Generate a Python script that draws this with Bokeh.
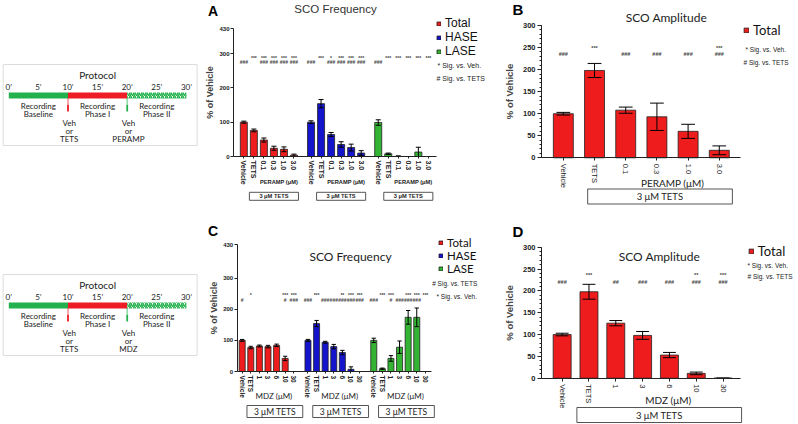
from bokeh.plotting import figure
from bokeh.models import Range1d, FixedTicker, Label, Legend, LegendItem
from bokeh.layouts import row, column
from bokeh.embed import file_html
from bokeh.resources import INLINE
from bokeh.core.properties import value

# ---------------- data ----------------
proto_ticks = [0, 5, 10, 15, 20, 25, 30]
proto_phase_start = [0, 10, 20]
proto_phase_end = [10, 20, 30]
proto_phase_line1 = ["Recording", "Recording", "Recording"]
proto_phase_line2 = ["Baseline", "Phase I", "Phase II"]
proto_inject_times = [10, 20]
proto_top_agents = ["TETS", "PERAMP"]
proto_bottom_agents = ["TETS", "MDZ"]

freq_groups = ["Total", "HASE", "LASE"]

# Panel A: SCO frequency, PERAMP
a_labels = ["Vehicle", "TETS", "0.1", "0.3", "1.0", "3.0"]
a_total = [100, 76, 48, 24, 21, 4]
a_total_err = [3, 4, 6, 6, 7, 3]
a_hase = [100, 154, 64, 35, 26, 10]
a_hase_err = [4, 12, 6, 8, 10, 7]
a_lase = [99, 8, 0, 0, 13, 0]
a_lase_err = [8, 2, 2, 0, 14, 0]
a_sig_veh = [["", "***", "***", "***", "***", "***"],
             ["", "***", "*", "***", "***", "***"],
             ["", "***", "***", "***", "***", "***"]]
a_sig_tets = [["###", "", "###", "###", "###", "###"],
              ["###", "", "###", "###", "###", "###"],
              ["###", "", "", "", "", ""]]

# Panel B: SCO amplitude, PERAMP
b_labels = ["Vehicle", "TETS", "0.1", "0.3", "1.0", "3.0"]
b_total = [100, 198, 108, 93, 60, 17]
b_total_err = [3, 16, 7, 31, 16, 10]
b_sig_veh = ["", "***", "", "", "", "***"]
b_sig_tets = ["###", "", "###", "###", "###", "###"]

# Panel C: SCO frequency, MDZ
c_labels = ["Vehicle", "TETS", "1", "3", "6", "10", "30"]
c_total = [100, 77, 82, 80, 84, 42, 0]
c_total_err = [3, 4, 3, 4, 4, 7, 0]
c_hase = [100, 154, 94, 80, 61, 7, 0]
c_hase_err = [3, 10, 3, 7, 7, 8, 0]
c_lase = [100, 9, 42, 78, 174, 174, 0]
c_lase_err = [7, 2, 9, 20, 22, 30, 0]
c_sig_veh = [["", "*", "", "", "", "***", "***"],
             ["", "***", "", "", "**", "***", "***"],
             ["", "***", "***", "", "***", "***", "***"]]
c_sig_tets = [["#", "", "", "", "", "#", "###"],
              ["###", "", "###", "###", "###", "###", "###"],
              ["###", "", "#", "###", "###", "###", ""]]

# Panel D: SCO amplitude, MDZ
d_labels = ["Vehicle", "TETS", "1", "3", "6", "10", "30"]
d_total = [100, 198, 126, 98, 53, 11, 0]
d_total_err = [3, 17, 6, 9, 6, 3, 0]
d_sig_veh = ["", "***", "", "", "", "**", "***"]
d_sig_tets = ["###", "", "##", "###", "###", "###", "###"]

# ---------------- styles ----------------
RED, BLUE, GREEN = "#ee1c1c", "#1414cc", "#33b533"
GROUP_COLORS = [RED, BLUE, GREEN]
P_RED, P_GREEN = "#ee1c24", "#22b14c"
DARK = "#222222"
ARIAL = "Liberation Sans"
CAL = "Lato"


def base_fig(g):
    # the frame covers the whole figure; axes are pinned with fixed_location/bounds
    sx = (g["pr"] - g["pl"]) / (g["x1"] - g["x0"])
    sy = (g["pb"] - g["pt"]) / g["y1"]
    xs = g["x0"] - (g["pl"] - g["fx"]) / sx
    xe = g["x1"] + (g["fx"] + g["W"] - g["pr"]) / sx
    ys = -(g["fy"] + g["H"] - g["pb"]) / sy
    ye = g["y1"] + (g["pt"] - g["fy"]) / sy
    p = figure(width=g["W"], height=g["H"], x_range=Range1d(xs, xe), y_range=Range1d(ys, ye),
               output_backend="svg", toolbar_location=None, min_border=0)
    p.grid.visible = False
    p.outline_line_color = None
    for ax in (p.xaxis[0], p.yaxis[0]):
        ax.axis_line_color = DARK
        ax.major_tick_line_color = DARK
        ax.minor_tick_line_color = DARK
        ax.major_tick_in = 0
        ax.minor_tick_in = 0
        ax.major_label_text_color = DARK
    p.xaxis.minor_tick_line_color = None
    p.yaxis[0].fixed_location = g["x0"]
    p.yaxis[0].bounds = (0, g["y1"])
    p.xaxis[0].fixed_location = 0
    p.xaxis[0].bounds = (g["x0"], g["x1"])
    return p


def page_label(p, g, px, py, text, size, font=ARIAL, style="normal", align="left", **kw):
    p.add_layout(Label(x=px - g["fx"], y=g["fy"] + g["H"] - py, x_units="screen",
                       y_units="screen", text=text,
                       text_font=font, text_font_size=f"{size}px", text_font_style=style,
                       text_align=align, text_baseline="middle",
                       text_color=kw.pop("text_color", DARK), **kw))


def data_x_label(p, g, x, py, text, size, font=ARIAL, style="normal", **kw):
    p.add_layout(Label(x=x, y=g["fy"] + g["H"] - py, x_units="data", y_units="screen", text=text,
                       text_font=font, text_font_size=f"{size}px", text_font_style=style,
                       text_align="center", text_baseline="middle", text_color=DARK, **kw))


def bars(p, pos, vals, errs, color, width, cap):
    r = p.vbar(x=pos, top=vals, bottom=0, width=width, fill_color=color,
               line_color=DARK, line_width=0.8)
    lo = [max(v - e, 0) for v, e in zip(vals, errs)]
    hi = [v + e for v, e in zip(vals, errs)]
    p.segment(x0=pos, x1=pos, y0=lo, y1=hi, line_color="black", line_width=1)
    p.segment(x0=[x - cap for x in pos], x1=[x + cap for x in pos], y0=hi, y1=hi,
              line_color="black", line_width=1)
    p.segment(x0=[x - cap for x in pos], x1=[x + cap for x in pos], y0=lo, y1=lo,
              line_color="black", line_width=1)
    return r


def sig_text(p, pos, texts, y, size):
    p.text(x=pos, y=[y] * len(pos), text=texts, text_align="center", text_baseline="middle",
           text_font=value(ARIAL), text_font_style="bold", text_font_size=f"{size}px",
           text_color="#444444")


def add_legend(p, g, names, renderers, px, py_bottom, gw, size, font, label_h):
    leg = Legend(items=[LegendItem(label=n, renderers=[r]) for n, r in zip(names, renderers)],
                 location=(px - g["fx"], g["fy"] + g["H"] - py_bottom), orientation="vertical",
                 glyph_width=int(gw), glyph_height=int(gw), label_text_font_size=f"{size}px",
                 label_text_font=font, label_text_color="#111111", label_standoff=4,
                 label_text_line_height=1.0,
                 label_height=int(label_h), spacing=0, padding=0, margin=0,
                 border_line_color=None, background_fill_alpha=0)
    p.add_layout(leg)


def freq_panel(g, labels, series, errs, sig_veh, sig_tets, drug_text, t):
    p = base_fig(g)
    n = len(labels)
    all_pos, all_lab = [], []
    rends = []
    for gi in range(3):
        pos = [gi * g["gap"] + i for i in range(n)]
        all_pos += pos
        all_lab += labels
        rends.append(bars(p, pos, series[gi], errs[gi], GROUP_COLORS[gi], g["bw"], g["cap"]))
        sig_text(p, pos, sig_veh[gi], g["s_hi"], t["sig"])
        sig_text(p, pos, sig_tets[gi], g["s_lo"], t["sig"])
        data_x_label(p, g, gi * g["gap"] + t["drug_c"], t["drug_y"], drug_text, t["drug_size"],
                     font=t["drug_font"], style=t["drug_style"])
        data_x_label(p, g, gi * g["gap"] + t["box_c"], t["box_y"], "3 \u03bcM TETS", t["box_size"],
                     font=t["drug_font"], style=t["drug_style"], border_line_color="#555555",
                     border_line_width=1, background_fill_color="white",
                     padding=dict(left=t["box_pad"], right=t["box_pad"], top=1, bottom=1))
    xa = p.xaxis[0]
    xa.ticker = FixedTicker(ticks=all_pos)
    xa.major_label_overrides = {x: l for x, l in zip(all_pos, all_lab)}
    xa.major_label_orientation = "vertical"
    xa.major_label_text_font = ARIAL
    xa.major_label_text_font_style = "bold"
    xa.major_label_text_font_size = t["xtick"]
    xa.major_tick_out = 2
    xa.major_label_standoff = 2
    ya = p.yaxis[0]
    ya.ticker = FixedTicker(ticks=[0, 100, 200, 300, g["y1"]])
    ya.major_label_overrides = {g["y1"]: "430"}
    ya.major_label_text_font = ARIAL
    ya.major_label_text_font_style = "bold"
    ya.major_label_text_font_size = "6px"
    ya.major_tick_out = 3
    ya.major_label_standoff = 1
    ya.axis_label = "% of Vehicle"
    ya.axis_label_text_font = ARIAL
    ya.axis_label_text_font_style = "bold"
    ya.axis_label_text_font_size = "9px"
    ya.axis_label_standoff = 1
    return p, rends


def amp_panel(g, labels, vals, errs, sig_veh, sig_tets, drug_text, t):
    p = base_fig(g)
    pos = list(range(len(labels)))
    r = bars(p, pos, vals, errs, RED, g["bw"], g["cap"])
    sig_text(p, pos, sig_veh, g["s_hi"], t["sig"])
    sig_text(p, pos, sig_tets, g["s_lo"], t["sig"])
    data_x_label(p, g, t["drug_c"], t["drug_y"], drug_text, t["drug_size"], font=CAL)
    data_x_label(p, g, t["box_c"], t["box_y"], "3 \u03bcM TETS", t["box_size"], font=CAL,
                 border_line_color="#555555", border_line_width=1, background_fill_color="white",
                 padding=dict(left=t["box_pad"], right=t["box_pad"], top=2, bottom=2))
    xa = p.xaxis[0]
    xa.ticker = FixedTicker(ticks=pos)
    xa.major_label_overrides = {x: l for x, l in zip(pos, labels)}
    xa.major_label_orientation = "vertical"
    xa.major_label_text_font = ARIAL
    xa.major_label_text_font_size = "7.5px"
    xa.major_tick_out = 3
    xa.major_label_standoff = 3
    ya = p.yaxis[0]
    ya.ticker = FixedTicker(ticks=[0, 50, 100, 150, 200, 250, 300],
                            minor_ticks=list(range(0, 301, 10)))
    ya.major_label_text_font = ARIAL
    ya.major_label_text_font_style = "bold"
    ya.major_label_text_font_size = "7.5px"
    ya.major_tick_out = 4
    ya.minor_tick_out = 2
    ya.major_label_standoff = 2
    ya.axis_label = "% of Vehicle"
    ya.axis_label_text_font = ARIAL
    ya.axis_label_text_font_style = "bold"
    ya.axis_label_text_font_size = "9.5px"
    ya.axis_label_standoff = 5
    return p, r


def protocol_fig(H, bar_top, agents):
    p = figure(width=199, height=H, x_range=Range1d(-1.40, 32.21), y_range=Range1d(H, 0),
               output_backend="svg", toolbar_location=None, min_border=0)
    p.xaxis.visible = False
    p.yaxis.visible = False
    p.grid.visible = False
    p.outline_line_color = None
    p.quad(left=[-0.95], right=[31.8], top=[bar_top - 28], bottom=[bar_top + 53],
           fill_color=None, line_color="#dcdcdc", line_width=1)
    p.text(x=[15], y=[bar_top - 18], text=["Protocol"], text_align="center",
           text_baseline="middle", text_font=value(CAL), text_font_size="10px", text_color="#222")
    p.text(x=proto_ticks, y=[bar_top - 6] * len(proto_ticks),
           text=[f"{t}\u2019" for t in proto_ticks], text_align="center",
           text_baseline="middle", text_font=value(CAL), text_font_size="8px", text_color="#222")
    fills = [P_GREEN, P_RED, "white"]
    hatch = [None, None, "/"]
    for s, e, f, h in zip(proto_phase_start, proto_phase_end, fills, hatch):
        if h is None:
            p.quad(left=[s], right=[e], top=[bar_top], bottom=[bar_top + 6], fill_color=f,
                   line_color=None)
        else:
            p.quad(left=[s], right=[e], top=[bar_top], bottom=[bar_top + 6], fill_color=f,
                   line_color=None, hatch_pattern=h, hatch_color=P_GREEN, hatch_scale=4,
                   hatch_weight=1.6)
    mids = [(s + e) / 2 for s, e in zip(proto_phase_start, proto_phase_end)]
    p.text(x=mids, y=[bar_top + 13] * 3, text=proto_phase_line1, text_align="center",
           text_baseline="middle", text_font=value(CAL), text_font_size="8px", text_color="#222")
    p.text(x=mids, y=[bar_top + 21] * 3, text=proto_phase_line2, text_align="center",
           text_baseline="middle", text_font=value(CAL), text_font_size="8px", text_color="#222")
    for t, col, ag in zip(proto_inject_times, [P_RED, P_GREEN], agents):
        p.segment(x0=[t], x1=[t], y0=[bar_top + 6], y1=[bar_top + 12], line_color=col,
                  line_width=1.5, line_dash="1 1")
        p.segment(x0=[t], x1=[t], y0=[bar_top + 12], y1=[bar_top + 19], line_color=col,
                  line_width=1.8)
        p.text(x=[t + 0.2] * 3, y=[bar_top + 30, bar_top + 38.5, bar_top + 46],
               text=["Veh", "or", ag], text_align="center", text_baseline="middle",
               text_font=value(CAL), text_font_size="8px", text_color="#222")
    return p


# ---------------- geometry (page pixels of each figure and of its plot area) ----------------
GA = dict(fx=199, fy=0, W=291, H=215, pl=233, pr=435.7, pt=28, pb=156,
          x0=-1.03, x1=19.18, y1=373, gap=6.7, bw=0.7, cap=0.25, s_hi=288, s_lo=274)
GC = dict(fx=199, fy=215, W=291, H=209, pl=236.7, pr=430.7, pt=244.3, pb=371,
          x0=-0.58, x1=21.98, y1=407, gap=7.65, bw=0.7, cap=0.25, s_hi=246, s_lo=231)
GB = dict(fx=490, fy=0, W=308, H=215, pl=541, pr=740, pt=25, pb=157.3,
          x0=-0.7, x1=5.68, y1=300, bw=0.64, cap=0.22, s_hi=249, s_lo=236)
GD = dict(fx=490, fy=215, W=308, H=209, pl=541, pr=740, pt=246.7, pb=377.7,
          x0=-0.77, x1=6.65, y1=300, bw=0.67, cap=0.24, s_hi=237, s_lo=221)

# Panel A
pA, rA = freq_panel(GA, a_labels, [a_total, a_hase, a_lase],
                    [a_total_err, a_hase_err, a_lase_err], a_sig_veh, a_sig_tets,
                    "PERAMP (\u03bcM)",
                    dict(sig=5, xtick="7px", drug_c=3.5, drug_y=181.5, drug_size=5.7,
                         drug_font=ARIAL, drug_style="bold", box_c=3.0, box_y=195.8,
                         box_size=5.7, box_pad=10))
page_label(pA, GA, 212.5, 10, "A", 14, style="bold", align="center", text_color="black")
page_label(pA, GA, 335, 8.5, "SCO Frequency", 11.5, align="center", text_color="#333")
add_legend(pA, GA, freq_groups, rA, 436, 58, 5, 12, ARIAL, 11)
page_label(pA, GA, 437, 65, "* Sig. vs. Veh.", 7)
page_label(pA, GA, 436, 78, "# Sig. vs. TETS", 7)

# Panel B
pB, rB = amp_panel(GB, b_labels, b_total, b_total_err, b_sig_veh, b_sig_tets,
                   "PERAMP (\u03bcM)",
                   dict(sig=5.5, drug_c=3.5, drug_y=182.7, drug_size=10, box_c=3.1, box_y=196,
                        box_size=9.5, box_pad=49))
page_label(pB, GB, 517.5, 9, "B", 15, style="bold", align="center", text_color="black")
page_label(pB, GB, 666, 16.7, "SCO Amplitude", 12, font=CAL, align="center")
add_legend(pB, GB, ["Total"], [rB], 743, 38, 6, 13, CAL, 13)
page_label(pB, GB, 745, 48.7, "* Sig. vs. Veh.", 6.5)
page_label(pB, GB, 743, 62, "# Sig. vs. TETS", 6.5)

# Panel C
pC, rC = freq_panel(GC, c_labels, [c_total, c_hase, c_lase],
                    [c_total_err, c_hase_err, c_lase_err], c_sig_veh, c_sig_tets,
                    "MDZ  (\u03bcM)",
                    dict(sig=5, xtick="6.5px", drug_c=3.8, drug_y=395, drug_size=8,
                         drug_font=CAL, drug_style="normal", box_c=3.8, box_y=411,
                         box_size=8.5, box_pad=7))
page_label(pC, GC, 212.5, 230, "C", 14, style="bold", align="center", text_color="black")
page_label(pC, GC, 350, 256, "SCO Frequency", 12, font=CAL, align="center")
add_legend(pC, GC, freq_groups, rC, 438, 274.5, 5, 11.5, CAL, 12)
page_label(pC, GC, 431.7, 282.7, "# Sig. vs. TETS", 6.5)
page_label(pC, GC, 436, 296, "* Sig. vs. Veh.", 6.5)

# Panel D
pD, rD = amp_panel(GD, d_labels, d_total, d_total_err, d_sig_veh, d_sig_tets,
                   "MDZ  (\u03bcM)",
                   dict(sig=5.5, drug_c=4.0, drug_y=399.3, drug_size=10, box_c=3.62, box_y=414.5,
                        box_size=9.5, box_pad=59))
page_label(pD, GD, 517.5, 230.5, "D", 15, style="bold", align="center", text_color="black")
page_label(pD, GD, 659, 256, "SCO Amplitude", 12, font=CAL, align="center")
add_legend(pD, GD, ["Total"], [rD], 747.7, 258.5, 6, 13, CAL, 13)
page_label(pD, GD, 747, 265, "* Sig. vs. Veh.", 6.5)
page_label(pD, GD, 747, 275.7, "# Sig. vs. TETS", 6.5)

proto_top = protocol_fig(215, 92, proto_top_agents)
proto_bot = protocol_fig(209, 87, proto_bottom_agents)

layout = column(row(proto_top, pA, pB), row(proto_bot, pC, pD))
open("out.html", "w").write(file_html(layout, INLINE))
